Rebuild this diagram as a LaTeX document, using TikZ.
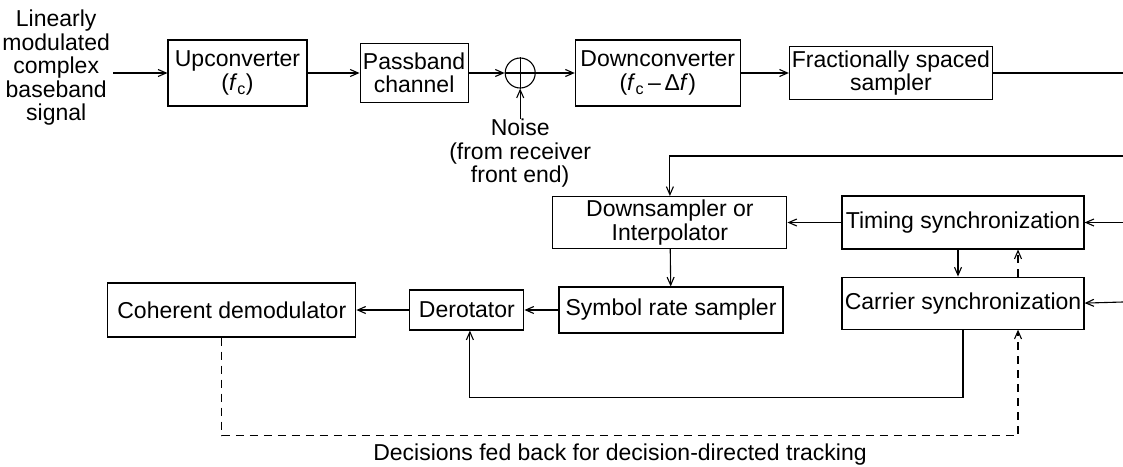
\documentclass[tikz,border=0pt]{standalone}
\usepackage{fontspec}
\setmainfont{Liberation Sans}
\usetikzlibrary{arrows.meta,positioning}

\begin{document}
\begin{tikzpicture}[x=1pt, y=-1pt, >={Straight Barb[length=8pt,width=7pt]}, line width=1.1pt,
  every node/.style={font=\fontsize{23}{23.5}\selectfont},
  blk/.style={draw, inner sep=1.5pt, align=center},
  dec/.style={dash pattern=on 8pt off 6pt}]
\useasboundingbox (0,0) rectangle (1123,466);
\node[blk, minimum width=139pt, minimum height=66pt] (up) at (237.5,73) {Upconverter\\(\textit{f}\textsubscript{c})};
\node[blk, right=52pt of up, minimum width=108pt, minimum height=59pt] (pass) {Passband\\channel};
\node[draw, circle, minimum size=30pt, inner sep=0pt, right=36pt of pass] (sum) {};
\node[blk, right=39pt of sum, minimum width=165pt, minimum height=66pt] (down) {Downconverter\\(\textit{f}\textsubscript{c}\,–\,Δ\textit{f})};
\node[blk, right=48pt of down, minimum width=203pt, minimum height=53pt] (frac) {Fractionally spaced\\sampler};
\node[align=center, left=54pt of up, yshift=5pt, inner sep=3pt] (in) {Linearly\\modulated\\complex\\baseband\\signal};
\node[align=center, below=30pt of sum, inner sep=0pt] (noise) {Noise\\(from receiver\\front end)};
\node[blk, minimum width=242pt, minimum height=53pt] (timing) at (963,222.5) {Timing synchronization};
\node[blk, left=54pt of timing, minimum width=234pt, minimum height=52pt] (dsamp) {Downsampler or\\Interpolator};
\node[blk, below=27pt of timing, minimum width=242pt, minimum height=52pt] (carrier) {Carrier synchronization};
\node[blk, minimum width=224pt, minimum height=46pt] (symb) at (671,310) {Symbol rate sampler};
\node[blk, left=34pt of symb, minimum width=114pt, minimum height=40pt] (derot) {Derotator};
\node[blk, left=53pt of derot, minimum width=248pt, minimum height=54pt] (demod) {Coherent demodulator};
\node (dlabel) at (620,455) {Decisions fed back for decision-directed tracking};
\coordinate (outR) at (1123,73);
\coordinate (tapA) at (1123,156);
\coordinate (tapB) at (1123,222.5);
\coordinate (tapC) at (1123,302);
\draw[->] (in.east |- up.west) -- (up.west);
\draw[->] (up) -- (pass);
\draw[->] (pass) -- (sum);
\draw[->] (sum) -- (down);
\draw[->] (down) -- (frac);
\draw (frac) -- (outR);
\draw (sum.north) -- (sum.south) (sum.west) -- (sum.east);
\draw[->] (noise) -- (sum);
\draw[->] (tapA) -| (dsamp.north);
\draw[->] (tapB) -- (timing.east);
\draw[->] (tapC) -- (carrier.east);
\draw[->] (timing) -- (dsamp);
\draw[->] (dsamp) -- (symb);
\draw[->] (symb) -- (derot);
\draw[->] (derot) -- (demod);
\draw[->] ([xshift=-5pt]timing.south) -- ([xshift=-5pt]carrier.north);
\draw[->, dec] ([xshift=55pt]carrier.north) -- ([xshift=55pt]timing.south);
\draw[->] (carrier.south) -- ++(0,68) -| ([xshift=3pt]derot.south);
\draw[->, dec] ([xshift=-10pt]demod.south) -- ++(0,98) -| ([xshift=55pt]carrier.south);
\end{tikzpicture}
\end{document}
